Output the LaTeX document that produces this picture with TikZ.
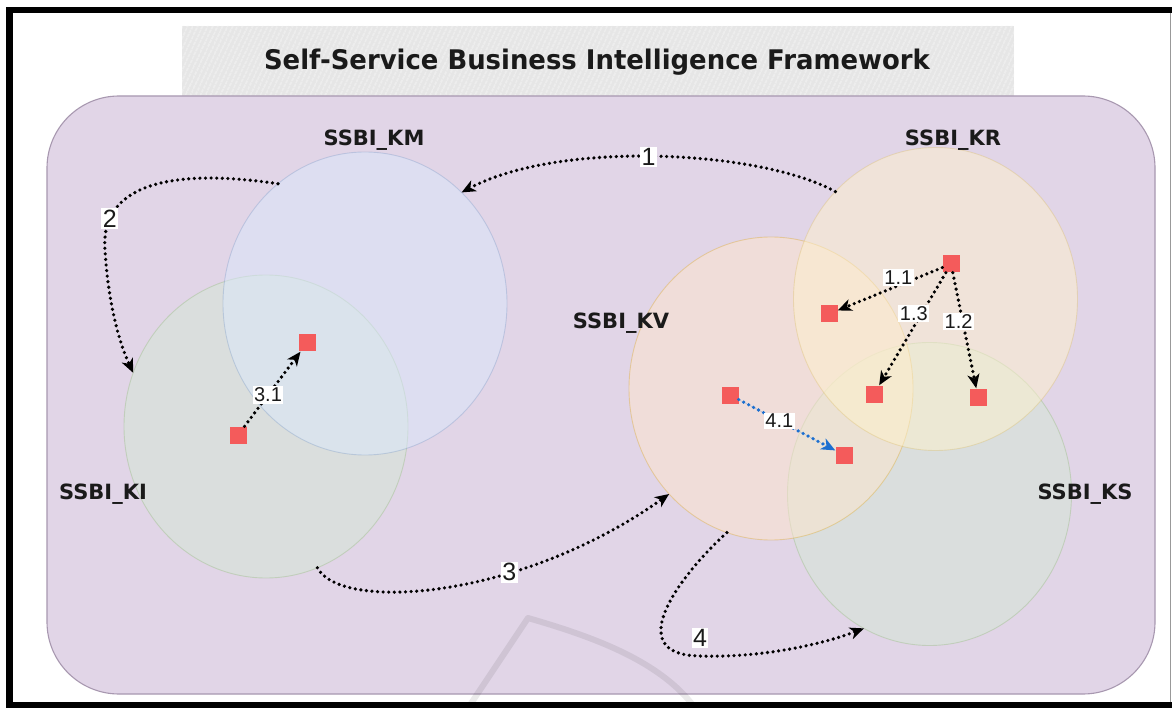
\documentclass[tikz,border=0pt]{standalone}
\usepackage{fontspec}
\setmainfont{Liberation Sans}
\newfontfamily\headfont{DejaVu Sans}
\usetikzlibrary{shapes.geometric,arrows.meta,patterns.meta}

\definecolor{boxpurple}{HTML}{E1D5E7}
\definecolor{boxedge}{HTML}{A898B0}
\definecolor{kmfill}{HTML}{DAE8FC}
\definecolor{kmedge}{HTML}{6C8EBF}
\definecolor{kifill}{HTML}{D5E8D4}
\definecolor{kiedge}{HTML}{82B366}
\definecolor{kvfill}{HTML}{FFE6CC}
\definecolor{kvedge}{HTML}{D79B00}
\definecolor{krfill}{HTML}{FFF2CC}
\definecolor{kredge}{HTML}{D6B656}
\definecolor{sqred}{HTML}{F45B5B}
\definecolor{flowblue}{HTML}{1C6FD0}
\definecolor{titlegray}{HTML}{E6E6E6}
\definecolor{inkdark}{HTML}{1A1A1A}

\tikzset{
  kset/.style={ellipse, minimum width=284pt, minimum height=303pt, inner sep=0pt,
    outer sep=0pt, fill opacity=0.5, draw opacity=0.3, line width=0.9pt},
  setname/.style={font=\headfont\bfseries\fontsize{21}{24}\selectfont, text=inkdark},
  item/.style={rectangle, minimum size=17pt, inner sep=0pt, fill=sqred},
  flow/.style={line width=3.6pt, line cap=round, dash pattern=on 0pt off 5.6pt,
    -{Stealth[length=14pt,width=12pt,inset=4pt]}},
  lbl/.style={fill=white, inner sep=1.5pt, text=inkdark, font=\fontsize{25}{28}\selectfont},
  sublbl/.style={lbl, font=\fontsize{20}{22}\selectfont},
}

\begin{document}
\begin{tikzpicture}[x=1pt, y=-1pt]
  \useasboundingbox (0,0) rectangle (1172,708);
  \fill[white] (0,0) rectangle (1172,708);

  % title band with sketchy hatching
  \fill[titlegray] (182,26) rectangle (1014,96);
  \fill[pattern={Lines[angle=65,distance=4pt,line width=0.7pt]}, pattern color=white!80!titlegray]
    (182,26) rectangle (1014,96);
  \node[font=\headfont\bfseries\fontsize{27}{30}\selectfont, text=inkdark] (title) at (597,62)
    {\scalebox{0.96}[1]{Self-Service Business Intelligence Framework}};

  % framework container
  \draw[fill=boxpurple, draw=boxedge, line width=1.1pt, rounded corners=72pt]
    (47,96) rectangle (1155,694);

  % knowledge sets
  \node[kset, fill=kifill, draw=kiedge] (KI) at (266,426.5) {};
  \node[kset, fill=kmfill, draw=kmedge] (KM) at (365,303.5) {};
  \node[kset, fill=kifill, draw=kiedge] (KS) at (929.5,494) {};
  \node[kset, fill=kvfill, draw=kvedge] (KV) at (771,388.5) {};
  \node[kset, fill=krfill, draw=kredge] (KR) at (935.5,299) {};

  \node[setname] (nKM) at (374,140) {SSBI\_KM};
  \node[setname] (nKR) at (953,140) {SSBI\_KR};
  \node[setname] (nKV) at (621,323) {SSBI\_KV};
  \node[setname] (nKI) at (103,494) {SSBI\_KI};
  \node[setname] (nKS) at (1085,494) {SSBI\_KS};

  % knowledge items
  \node[item] (i1) at (238,435) {};
  \node[item] (i2) at (307,343) {};
  \node[item] (r0) at (951,264) {};
  \node[item] (r1) at (829,314) {};
  \node[item] (r3) at (874,394) {};
  \node[item] (r2) at (978,397) {};
  \node[item] (v0) at (730,395) {};
  \node[item] (v1) at (844,455) {};

  % flows between sets
  \draw[flow] (KR.133) .. controls (760,150) and (560,140) .. node[lbl, pos=0.52] (l1) {1} (KM.49);
  \draw[flow] (KM.126) .. controls (160,166) and (100,190) .. (105,250)
    node[lbl, pos=0.8] (l2) {2}
    .. controls (108,300) and (118,340) .. (KI.158);
  \draw[flow] (KI.-70.5) .. controls (340,612) and (520,600) .. node[lbl, pos=0.65] (l3) {3} (KV.226);
  \draw[flow] (KV.253) .. controls (680,575) and (620,655) .. (700,656)
    node[lbl, yshift=18pt] (l4) {4}
    .. controls (760,658) and (820,645) .. (KS.244);

  % flows between items
  \draw[flow] (i1) -- node[sublbl, pos=0.42] (l31) {3.1} (i2);
  \draw[flow] (r0) -- node[sublbl, pos=0.42, yshift=8pt] (l11) {1.1} (r1);
  \draw[flow] (r0) -- node[sublbl, pos=0.36, xshift=-8pt] (l13) {1.3} (r3);
  \draw[flow] (r0) -- node[sublbl, pos=0.42, xshift=-4pt] (l12) {1.2} (r2);
  \draw[flow, draw=flowblue, fill=flowblue] (v0) -- node[sublbl, pos=0.42] (l41) {4.1} (v1);

  % faint mark near the bottom edge
  \draw[black, opacity=0.08, line width=6pt, line join=round]
    (468,708) -- (528,618) .. controls (590,636) and (660,660) .. (695,708);

  % outer frame
  \draw[black, line width=6.5pt] (9.5,708) -- (9.5,10) -- (1172,10);
  \draw[black, line width=6pt] (6,705) -- (1172,705);
  \draw[black!40, line width=1pt] (1170,13) -- (1170,702);
\end{tikzpicture}
\end{document}
